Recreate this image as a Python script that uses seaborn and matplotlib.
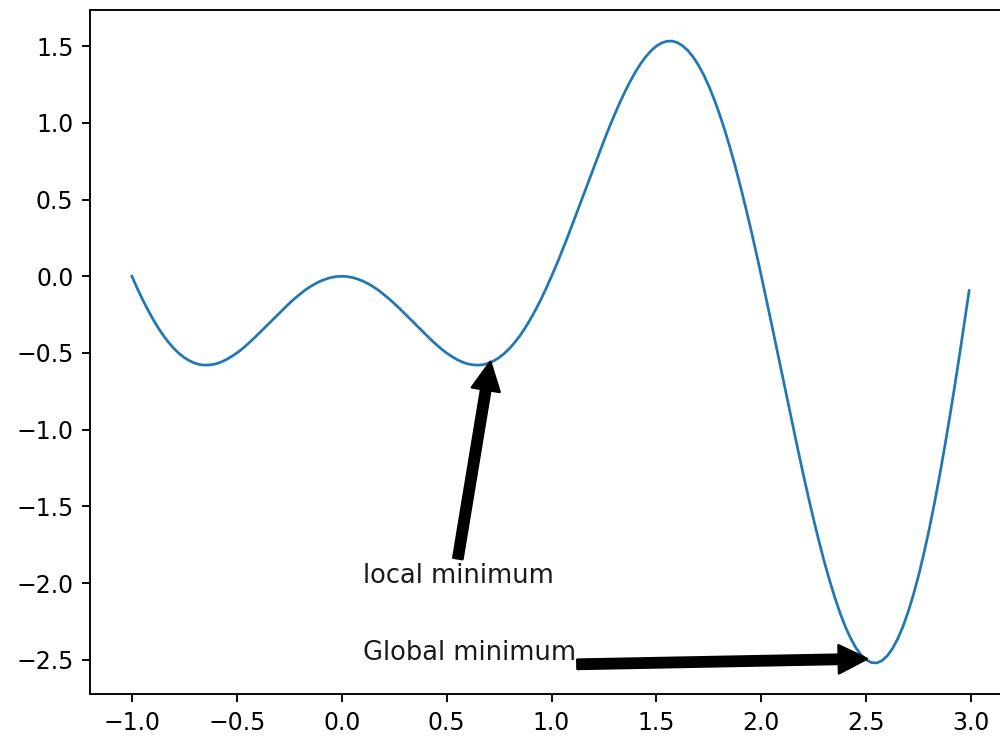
import numpy as np
import matplotlib
matplotlib.use('Agg')
import matplotlib.pyplot as plt
import seaborn as sns

# Curve values
x_vals = [-1.000, -0.975, -0.950, -0.925, -0.900, -0.875, -0.850, -0.825,
          -0.800, -0.775, -0.750, -0.725, -0.700, -0.675, -0.650, -0.625,
          -0.600, -0.575, -0.550, -0.525, -0.500, -0.475, -0.450, -0.425,
          -0.400, -0.375, -0.350, -0.325, -0.300, -0.275, -0.250, -0.225,
          -0.200, -0.175, -0.150, -0.125, -0.100, -0.075, -0.050, -0.025,
          0.000, 0.025, 0.050, 0.075, 0.100, 0.125, 0.150, 0.175,
          0.200, 0.225, 0.250, 0.275, 0.300, 0.325, 0.350, 0.375,
          0.400, 0.425, 0.450, 0.475, 0.500, 0.525, 0.550, 0.575,
          0.600, 0.625, 0.650, 0.675, 0.700, 0.725, 0.750, 0.775,
          0.800, 0.825, 0.850, 0.875, 0.900, 0.925, 0.950, 0.975,
          1.000, 1.025, 1.050, 1.075, 1.100, 1.125, 1.150, 1.175,
          1.200, 1.225, 1.250, 1.275, 1.300, 1.325, 1.350, 1.375,
          1.400, 1.425, 1.450, 1.475, 1.500, 1.525, 1.550, 1.575,
          1.600, 1.625, 1.650, 1.675, 1.700, 1.725, 1.750, 1.775,
          1.800, 1.825, 1.850, 1.875, 1.900, 1.925, 1.950, 1.975,
          2.000, 2.025, 2.050, 2.075, 2.100, 2.125, 2.150, 2.175,
          2.200, 2.225, 2.250, 2.275, 2.300, 2.325, 2.350, 2.375,
          2.400, 2.425, 2.450, 2.475, 2.500, 2.525, 2.550, 2.575,
          2.600, 2.625, 2.650, 2.675, 2.700, 2.725, 2.750, 2.775,
          2.800, 2.825, 2.850, 2.875, 2.900, 2.925, 2.950, 2.975,
          2.990]
y_vals = [0.000, -0.077, -0.149, -0.216, -0.278, -0.335, -0.386, -0.431,
          -0.470, -0.503, -0.530, -0.551, -0.566, -0.576, -0.579, -0.577,
          -0.571, -0.559, -0.543, -0.523, -0.500, -0.474, -0.444, -0.413,
          -0.380, -0.346, -0.312, -0.277, -0.243, -0.209, -0.177, -0.146,
          -0.118, -0.091, -0.068, -0.048, -0.031, -0.018, -0.008, -0.002,
          0.000, -0.002, -0.008, -0.018, -0.031, -0.048, -0.068, -0.091,
          -0.118, -0.146, -0.177, -0.209, -0.243, -0.277, -0.312, -0.346,
          -0.380, -0.413, -0.444, -0.474, -0.500, -0.523, -0.543, -0.559,
          -0.571, -0.577, -0.579, -0.576, -0.566, -0.551, -0.530, -0.503,
          -0.470, -0.431, -0.386, -0.335, -0.278, -0.216, -0.149, -0.077,
          0.000, 0.080, 0.164, 0.251, 0.340, 0.431, 0.522, 0.614,
          0.705, 0.796, 0.884, 0.970, 1.052, 1.130, 1.203, 1.270,
          1.332, 1.386, 1.432, 1.470, 1.500, 1.520, 1.531, 1.532,
          1.522, 1.501, 1.470, 1.428, 1.375, 1.312, 1.237, 1.153,
          1.058, 0.954, 0.840, 0.718, 0.587, 0.449, 0.305, 0.155,
          0.000, -0.159, -0.321, -0.484, -0.649, -0.813, -0.976, -1.136,
          -1.293, -1.445, -1.591, -1.730, -1.861, -1.982, -2.094, -2.194,
          -2.283, -2.358, -2.420, -2.467, -2.500, -2.517, -2.519, -2.504,
          -2.473, -2.425, -2.361, -2.281, -2.184, -2.072, -1.945, -1.802,
          -1.646, -1.476, -1.294, -1.100, -0.896, -0.683, -0.461, -0.234,
          -0.094]

# Annotations: label, text position, arrow start and arrow target
labels = ['local minimum', 'Global minimum']
text_pos = [(0.1, -2.0), (0.1, -2.5)]
arrow_from = [(0.545, -1.91), (1.046, -2.53)]
arrow_to = [(0.717, -0.486), (2.58, -2.49)]

fig = plt.figure(figsize=(1000 / 170, 738 / 170), dpi=170)
ax = fig.add_axes([0.09, 1 - 694 / 738, 0.921, 684 / 738])

sns.lineplot(x=x_vals, y=y_vals, ax=ax, color='#1f77b4', linewidth=1.15,
             sort=False)

for lab, xt, a0, a1 in zip(labels, text_pos, arrow_from, arrow_to):
    ax.annotate('', xy=a1, xytext=a0,
                arrowprops=dict(facecolor='black', shrink=0.05))
    ax.text(xt[0], xt[1], lab, fontsize=10.9, color='#1a1a1a')

ax.set_xticks([-1.0, -0.5, 0.0, 0.5, 1.0, 1.5, 2.0, 2.5, 3.0])
ax.set_yticks([-2.5, -2.0, -1.5, -1.0, -0.5, 0.0, 0.5, 1.0, 1.5])

fig.savefig('out.png', dpi=170)
